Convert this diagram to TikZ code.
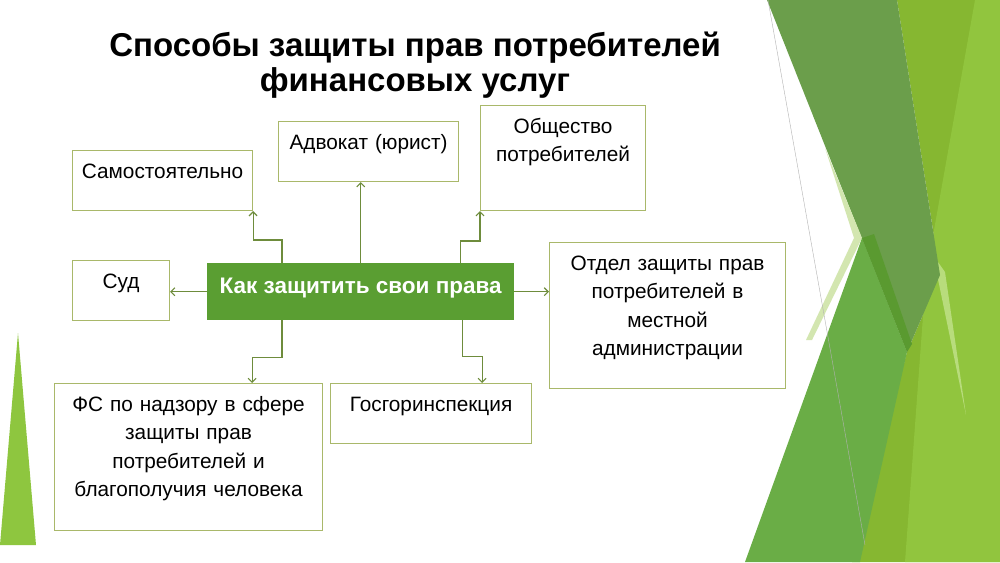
\documentclass[tikz,border=0pt]{standalone}
\usepackage{fontspec}
\setmainfont{Liberation Sans}
\usetikzlibrary{arrows.meta}
\definecolor{linec}{HTML}{6E8C3C}
\definecolor{boxc}{HTML}{A9B86A}
\definecolor{ctrc}{HTML}{5A9E32}
\definecolor{darkg}{HTML}{6B9E4B}
\definecolor{limeg}{HTML}{86B731}
\definecolor{brightg}{HTML}{91C53E}
\definecolor{midg}{HTML}{6AAD46}
\definecolor{deepg}{HTML}{5A9A30}
\definecolor{paleg}{HTML}{D3E6B0}
\definecolor{lightg}{HTML}{B8DC7C}
\definecolor{leftg}{HTML}{8EC63F}
\newcommand{\boxfont}{\fontsize{20.8}{28.3}\selectfont}

\begin{document}
\begin{tikzpicture}[x=1pt,y=-1pt,
  box/.style={draw=boxc, line width=1.1pt, anchor=north west, align=center,
    inner xsep=3pt, inner ysep=6pt, text height=22pt, font=\boxfont},
  conn/.style={draw=linec, line width=1.1pt, -{Straight Barb[length=4pt,width=8pt]}}]
\useasboundingbox (0,0) rectangle (1000,562);
\fill[white] (0,0) rectangle (1000,562);
\fill[leftg] (18,333) -- (36,545) -- (0,545) -- cycle;
\fill[limeg] (897,0) -- (1000,0) -- (1000,562) -- (852,562) -- (907,352) -- (940,275) -- cycle;
\fill[brightg] (975,0) -- (1000,0) -- (1000,562) -- (905,562) -- (926,275) -- cycle;
\fill[lightg] (933,255) -- (945,272) -- (966,415) -- cycle;
\fill[darkg] (767,0) -- (897,0) -- (940,275) -- (907,352) -- cycle;
\fill[paleg] (825,148) -- (862,238) -- (812,340) -- (806,340) -- (854,238) -- cycle;
\fill[midg] (862,238) -- (907,352) -- (860,562) -- (745,562) -- cycle;
\fill[deepg] (862,238) -- (874,234) -- (912,344) -- (907,352) -- cycle;
\draw[gray!60, line width=0.4pt] (768,0) -- (865,545);
\node[font=\bfseries\fontsize{33}{35}\selectfont, align=center] (title) at (415,65)
  {Способы защиты прав потребителей\\финансовых услуг};
\node[box, text width=174pt, text depth=26pt] (sam) at (72,150) {Самостоятельно};
\node[box, text width=174pt, text depth=26pt] (adv) at (278,121) {Адвокат (юрист)};
\node[box, text width=159pt, text depth=71pt] (obs) at (480,105) {Общество\\потребителей};
\node[box, text width=91pt, text depth=26pt] (sud) at (72,260) {Суд};
\node[box, text width=230pt, text depth=112pt] (otd) at (549,242)
  {Отдел защиты прав\\потребителей в\\местной\\администрации};
\node[box, text width=262pt, text depth=113pt] (fs) at (54,383)
  {ФС по надзору в сфере\\защиты прав\\потребителей и\\благополучия человека};
\node[box, text width=195pt, text depth=26pt] (gos) at (330,383) {Госгоринспекция};
\node[fill=ctrc, text=white, anchor=north west, inner sep=0pt, minimum width=307pt,
  text height=30pt, text depth=27pt, font=\bfseries\fontsize{22.5}{24}\selectfont] (ctr) at (207,263)
  {Как защитить свои права};
\draw[conn] ([xshift=75]ctr.north west) -- ++(0,-23) -| (sam.south east);
\draw[conn] (ctr.north) -- (ctr.north |- adv.south);
\draw[conn] ([xshift=-54]ctr.north east) -- ++(0,-22) -| (obs.south west);
\draw[conn] (ctr.west) -- (ctr.west -| sud.east);
\draw[conn] (ctr.east) -- (ctr.east -| otd.west);
\draw[conn] ([xshift=75]ctr.south west) -- ++(0,37) -| ([xshift=-71]fs.north east);
\draw[conn] ([xshift=-52]ctr.south east) -- ++(0,36) -| ([xshift=-50]gos.north east);
\end{tikzpicture}
\end{document}
